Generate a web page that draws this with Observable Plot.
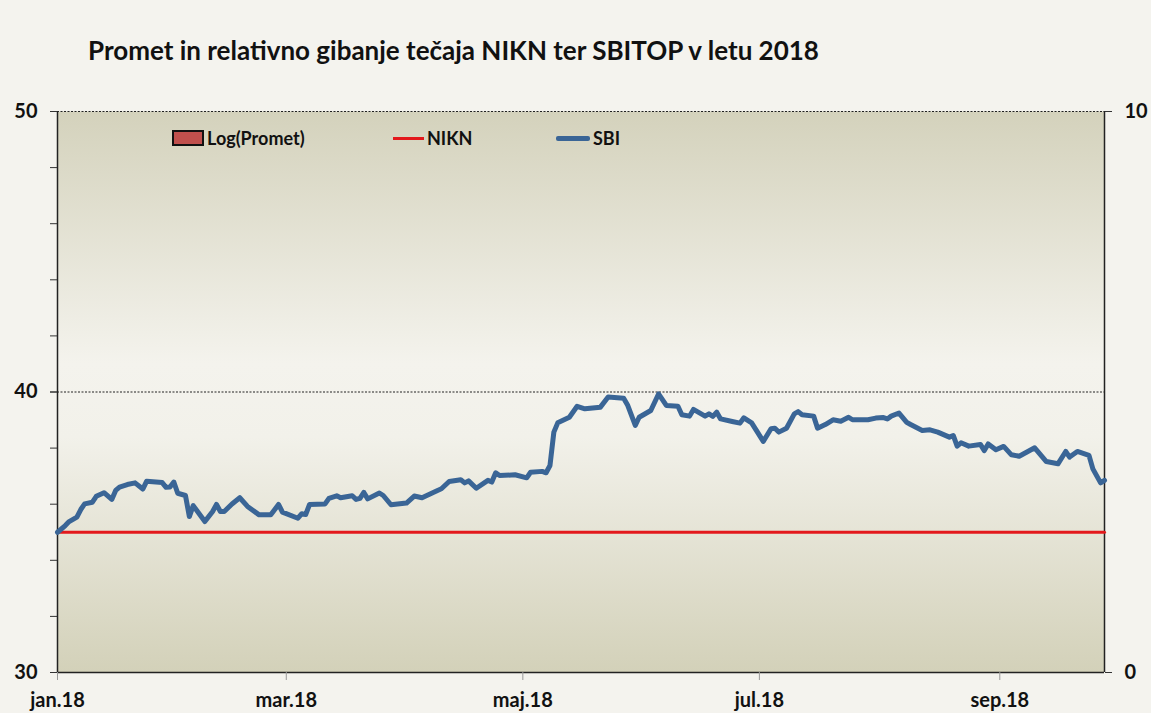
<!DOCTYPE html>
<html><head><meta charset="utf-8">
<script src="https://cdn.jsdelivr.net/npm/d3@7"></script>
<script src="https://cdn.jsdelivr.net/npm/@observablehq/plot@0.6"></script>
<style>
html,body{margin:0;padding:0;background:#f4f3ee;}
#wrap{position:relative;width:1151px;height:713px;overflow:hidden;font-family:Lato,"Open Sans",sans-serif;color:#111;}
#title{height:95px;box-sizing:border-box;padding:35px 0 0 88px;font-weight:bold;font-size:26px;line-height:30px;}
#legend{position:absolute;left:0;top:128px;width:100%;height:20px;}
.item{position:absolute;top:0;height:20px;display:flex;align-items:center;font-weight:bold;font-size:18px;white-space:nowrap;}
.key{margin-right:3px;box-sizing:border-box;}
svg{display:block;}
</style>
</head><body>
<div id="wrap">
  <div id="title"></div>
  <div id="legend"></div>
  <div id="chart"></div>
</div>
<script>
const titleText = "Promet in relativno gibanje tečaja NIKN ter SBITOP v letu 2018";
const legendNames = ["Log(Promet)", "NIKN", "SBI"];
const xDomain = ["2018-01-01", "2018-09-28"];
const xTickDates = ["2018-01-01", "2018-03-01", "2018-05-01", "2018-07-01", "2018-09-01"];
const xTickLabels = ["jan.18", "mar.18", "maj.18", "jul.18", "sep.18"];
const leftMajorTicks = [30, 40, 50];
const leftMinorTicks = [30, 32, 34, 36, 38, 40, 42, 44, 46, 48, 50];
const rightTicks = [0, 10];
const gridValues = [40, 50];

const niknDates = ["2018-01-01", "2018-09-28"];
const niknValues = [35, 35];

const sbiDates = [
"2018-01-01","2018-01-03","2018-01-04","2018-01-06","2018-01-07","2018-01-08","2018-01-10","2018-01-11","2018-01-13","2018-01-15",
"2018-01-16","2018-01-17","2018-01-19","2018-01-21","2018-01-23","2018-01-24","2018-01-28","2018-01-29","2018-01-30","2018-01-31",
"2018-02-01","2018-02-03","2018-02-04","2018-02-05","2018-02-08","2018-02-10","2018-02-11","2018-02-12","2018-02-13","2018-02-15",
"2018-02-17","2018-02-19","2018-02-22","2018-02-25","2018-02-27","2018-02-28","2018-03-04","2018-03-05","2018-03-06","2018-03-07",
"2018-03-11","2018-03-12","2018-03-14","2018-03-15","2018-03-18","2018-03-19","2018-03-20","2018-03-21","2018-03-22","2018-03-25",
"2018-03-26","2018-03-28","2018-04-01","2018-04-03","2018-04-05","2018-04-09","2018-04-10","2018-04-12","2018-04-15","2018-04-16",
"2018-04-17","2018-04-19","2018-04-22","2018-04-23","2018-04-24","2018-04-25","2018-04-29","2018-05-02","2018-05-03","2018-05-06",
"2018-05-07","2018-05-08","2018-05-09","2018-05-10","2018-05-13","2018-05-15","2018-05-17","2018-05-21","2018-05-23","2018-05-27",
"2018-05-28","2018-05-30","2018-05-31","2018-06-03","2018-06-05","2018-06-07","2018-06-10","2018-06-11","2018-06-13","2018-06-14",
"2018-06-17","2018-06-18","2018-06-19","2018-06-20","2018-06-21","2018-06-24","2018-06-26","2018-06-27","2018-06-29","2018-07-02",
"2018-07-04","2018-07-05","2018-07-06","2018-07-08","2018-07-10","2018-07-11","2018-07-12","2018-07-15","2018-07-16","2018-07-18",
"2018-07-20","2018-07-22","2018-07-24","2018-07-25","2018-07-29","2018-07-31","2018-08-02","2018-08-03","2018-08-04","2018-08-06",
"2018-08-08","2018-08-09","2018-08-12","2018-08-14","2018-08-16","2018-08-19","2018-08-20","2018-08-21","2018-08-22","2018-08-24",
"2018-08-27","2018-08-28","2018-08-29","2018-08-31","2018-09-02","2018-09-04","2018-09-06","2018-09-10","2018-09-13","2018-09-16",
"2018-09-18","2018-09-19","2018-09-21","2018-09-24","2018-09-25","2018-09-27","2018-09-28"
];
const sbiValues = [
35.00,35.24,35.38,35.54,35.81,36.01,36.07,36.28,36.41,36.17,
36.49,36.61,36.70,36.76,36.54,36.82,36.77,36.60,36.61,36.79,
36.39,36.31,35.56,35.95,35.38,35.74,35.99,35.74,35.74,36.01,
36.23,35.92,35.62,35.62,35.99,35.72,35.50,35.66,35.63,35.99,
36.01,36.21,36.30,36.23,36.30,36.17,36.21,36.42,36.19,36.40,
36.31,35.98,36.04,36.29,36.23,36.49,36.55,36.81,36.87,36.76,
36.83,36.57,36.85,36.79,37.12,37.02,37.05,36.94,37.14,37.17,
37.12,37.38,38.57,38.90,39.10,39.49,39.40,39.46,39.82,39.78,
39.54,38.81,39.10,39.34,39.93,39.52,39.49,39.19,39.14,39.38,
39.14,39.22,39.13,39.28,39.04,38.95,38.89,39.08,38.90,38.24,
38.69,38.71,38.57,38.71,39.22,39.30,39.19,39.14,38.71,38.84,
39.01,38.96,39.10,39.01,39.01,39.07,39.09,39.04,39.14,39.25,
38.92,38.84,38.63,38.65,38.57,38.39,38.45,38.07,38.19,38.07,
38.13,37.91,38.15,37.94,38.06,37.76,37.71,38.01,37.52,37.44,
37.88,37.68,37.88,37.74,37.26,36.76,36.85
];

const parse = d3.utcParse("%Y-%m-%d");
const sbi = sbiDates.map((d, i) => ({date: parse(d), value: sbiValues[i]}));
const nikn = niknDates.map((d, i) => ({date: parse(d), value: niknValues[i]}));
const xStart = parse(xDomain[0]), xEnd = parse(xDomain[1]);
const xTicks = xTickDates.map(parse);
const labelFor = new Map(xTicks.map((d, i) => [+d, xTickLabels[i]]));
// right axis (0–10) drawn against the left scale (30–50)
const rightToLeft = v => 30 + v * 2;
const leftToRight = v => (v - 30) / 2;

document.getElementById("title").textContent = titleText;

// legend
const legend = document.getElementById("legend");
const legendLeft = [172, 393, 556];
const keyStyles = [
  "width:32px;height:16px;background:#c0504d;border:2px solid #111;",
  "width:31px;height:3px;background:#e3191c;",
  "width:34px;height:5px;background:#3a6596;border-radius:2px;"
];
legendNames.forEach((name, i) => {
  const it = document.createElement("div");
  it.className = "item";
  it.style.left = legendLeft[i] + "px";
  const k = document.createElement("span");
  k.className = "key";
  k.style.cssText += keyStyles[i];
  it.appendChild(k);
  it.appendChild(document.createTextNode(name));
  legend.appendChild(it);
});

const chart = Plot.plot({
  width: 1151,
  height: 618,
  marginTop: 16,
  marginBottom: 41,
  marginLeft: 57,
  marginRight: 47,
  style: {background: "transparent", fontFamily: "Lato, 'Open Sans', sans-serif", fontSize: "18px", color: "#111", overflow: "visible"},
  x: {type: "utc", domain: [xStart, xEnd]},
  y: {domain: [30, 50]},
  marks: [
    Plot.frame({fill: "url(#bgGrad)", stroke: "none"}),
    Plot.ruleY(gridValues, {stroke: "#222", strokeWidth: 1, strokeDasharray: "2,1.5"}),
    Plot.ruleY([30], {stroke: "#222", strokeWidth: 1.5}),
    Plot.ruleX([xStart], {stroke: "#222", strokeWidth: 1.5}),
    Plot.ruleX([xEnd], {stroke: "#222", strokeWidth: 1.5}),
    Plot.axisY(leftMinorTicks, {anchor: "left", tickSize: 7, text: null, label: null, stroke: "#333"}),
    Plot.axisY(leftMajorTicks, {anchor: "left", tickSize: 7, tickPadding: 13, stroke: "#333", fontWeight: "bold", fontSize: 20, label: null}),
    Plot.axisY(rightTicks.map(rightToLeft), {anchor: "right", tickSize: 7, tickPadding: 13, stroke: "#333", fontWeight: "bold", fontSize: 20, tickFormat: leftToRight, label: null}),
    Plot.axisX(xTicks, {anchor: "bottom", tickSize: 8, tickPadding: 12, stroke: "#999", fontWeight: "bold", fontSize: 20, tickFormat: d => labelFor.get(+d), label: null}),
    Plot.lineY(nikn, {x: "date", y: "value", stroke: "#e3191c", strokeWidth: 3}),
    Plot.lineY(sbi, {x: "date", y: "value", stroke: "#3a6596", strokeWidth: 5, strokeLinejoin: "round", strokeLinecap: "round"})
  ]
});
chart.insertAdjacentHTML("afterbegin",
  '<defs><linearGradient id="bgGrad" x1="0" y1="0" x2="0" y2="1">' +
  '<stop offset="0" stop-color="#d4d2bc"/>' +
  '<stop offset="0.45" stop-color="#f4f3ed"/>' +
  '<stop offset="0.58" stop-color="#f2f1ea"/>' +
  '<stop offset="1" stop-color="#d3d1b9"/>' +
  '</linearGradient></defs>');
document.getElementById("chart").appendChild(chart);
</script>
</body></html>
